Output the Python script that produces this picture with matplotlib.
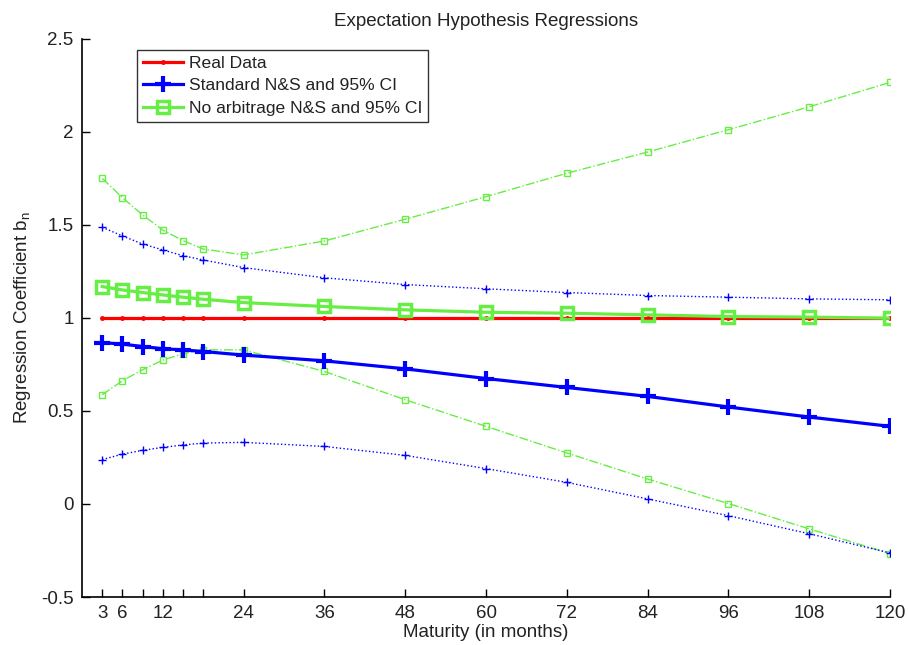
import matplotlib
matplotlib.use("Agg")
import matplotlib.pyplot as plt

plt.rcParams['font.family'] = ['Liberation Sans', 'DejaVu Sans']
plt.rcParams['mathtext.default'] = 'regular'

maturities = [3, 6, 9, 12, 15, 18, 24, 36, 48, 60, 72, 84, 96, 108, 120]
real_data = [1.0] * 15
std_ns = [0.867, 0.859, 0.846, 0.834, 0.828, 0.819, 0.800, 0.769, 0.726, 0.674, 0.626, 0.578, 0.521, 0.467, 0.417]
std_upper = [1.487, 1.440, 1.397, 1.365, 1.334, 1.311, 1.270, 1.215, 1.179, 1.156, 1.136, 1.120, 1.111, 1.102, 1.097]
std_lower = [0.238, 0.268, 0.288, 0.304, 0.317, 0.327, 0.331, 0.309, 0.261, 0.190, 0.116, 0.027, -0.063, -0.160, -0.263]
na_ns = [1.168, 1.150, 1.136, 1.123, 1.111, 1.100, 1.082, 1.061, 1.043, 1.030, 1.025, 1.016, 1.007, 1.004, 0.998]
na_upper = [1.750, 1.646, 1.553, 1.472, 1.415, 1.370, 1.338, 1.413, 1.530, 1.651, 1.777, 1.891, 2.011, 2.134, 2.265]
na_lower = [0.587, 0.662, 0.721, 0.773, 0.807, 0.828, 0.828, 0.712, 0.560, 0.417, 0.274, 0.134, 0.002, -0.134, -0.267]

x_ticks = maturities
x_ticklabels = ['3', '6', '', '12', '', '', '24', '36', '48', '60', '72', '84', '96', '108', '120']
y_ticks = [-0.5, 0, 0.5, 1, 1.5, 2, 2.5]
y_ticklabels = ['-0.5', '0', '0.5', '1', '1.5', '2', '2.5']

RED = '#ff0000'
BLUE = '#0000ff'
GREEN = '#66ee44'
TXT = '#222222'
FS = 13.5
LFS = 12.6

fig = plt.figure(figsize=(9.08, 6.45), dpi=100)
ax = fig.add_axes([82/908, 1 - 597/645, (890-82)/908, (597-38.7)/645])

ax.plot(maturities, na_upper, linestyle='-.', color=GREEN, lw=1, marker='s', ms=4.5,
        mfc='none', mec=GREEN, mew=1)
ax.plot(maturities, na_lower, linestyle='-.', color=GREEN, lw=1, marker='s', ms=4.5,
        mfc='none', mec=GREEN, mew=1)
ax.plot(maturities, std_upper, linestyle=':', color=BLUE, lw=1, marker='+', ms=6, mew=1)
ax.plot(maturities, std_lower, linestyle=':', color=BLUE, lw=1, marker='+', ms=6, mew=1)

l1, = ax.plot(maturities, real_data, '-', color=RED, lw=2.3, marker='.', ms=5,
              label='Real Data')
l2, = ax.plot(maturities, std_ns, '-', color=BLUE, lw=2.3, marker='+', ms=11.5, mew=3,
              label='Standard N&S and 95% CI')
l3, = ax.plot(maturities, na_ns, '-', color=GREEN, lw=2.3, marker='s', ms=8.5, mfc='none',
              mec=GREEN, mew=2.5, label='No arbitrage N&S and 95% CI')

ax.set_xlim(0, 120)
ax.set_ylim(-0.5, 2.5)
ax.set_xticks(x_ticks)
ax.set_xticklabels(x_ticklabels)
ax.set_yticks(y_ticks)
ax.set_yticklabels(y_ticklabels)
ax.tick_params(direction='in', length=6, width=1, labelsize=FS, colors='black',
               labelcolor=TXT, pad=6)
for s in ['top', 'right']:
    ax.spines[s].set_visible(False)
for s in ['left', 'bottom']:
    ax.spines[s].set_linewidth(1.2)

ax.set_title('Expectation Hypothesis Regressions', fontsize=FS, color=TXT, pad=9)
ax.set_xlabel('Maturity (in months)', fontsize=FS, color=TXT, labelpad=1)
ax.set_ylabel('Regression Coefficient b$_n$', fontsize=FS, color=TXT, labelpad=6)

leg = ax.legend(handles=[l1, l2, l3], loc='upper left', bbox_to_anchor=(0.068, 0.98),
                fontsize=LFS, frameon=True, fancybox=False, handlelength=2.3,
                handletextpad=0.3, borderpad=0.35, labelspacing=0.4, borderaxespad=0)
leg.get_frame().set_edgecolor('black')
leg.get_frame().set_linewidth(1.0)
for t in leg.get_texts():
    t.set_color(TXT)

fig.savefig('out.png', dpi=100)
